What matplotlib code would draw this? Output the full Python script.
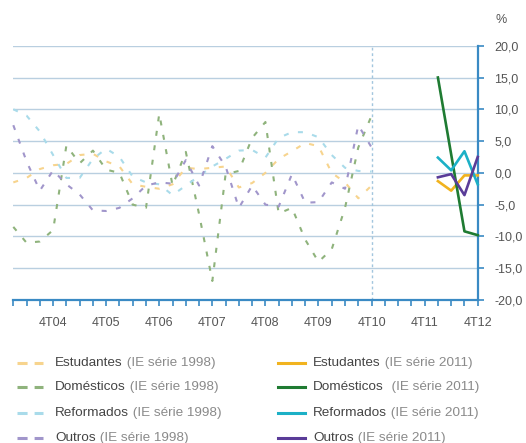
import matplotlib
matplotlib.use('Agg')
import matplotlib.pyplot as plt
from matplotlib.lines import Line2D

plt.rcParams['font.family'] = ['Liberation Sans', 'DejaVu Sans']

# trimestres 1T04 .. 4T12
trimestres = [f'{t}T{a:02d}' for a in range(4, 13) for t in range(1, 5)]
rotulos = ['4T04', '4T05', '4T06', '4T07', '4T08', '4T09', '4T10', '4T11', '4T12']

# IE série 1998 (1T04 a 4T10)
estudantes_98 = [-1.5, -0.8, 0.6, 1.2, 1.4, 2.8, 3.0, 1.8, 1.0, -1.8, -2.2, -2.5, -1.8, 0.8,
                 0.6, 0.8, 1.0, -2.3, -1.6, 0.0, 2.2, 3.4, 4.7, 4.2, 0.0, -1.5, -4.0, -2.0]
domesticos_98 = [-8.5, -11.0, -10.8, -9.0, 4.3, 1.5, 3.5, 0.5, 0.0, -5.0, -5.5, 9.3, -2.0, 3.3,
                 -6.5, -17.0, -0.2, 0.3, 5.5, 8.0, -6.4, -5.5, -10.5, -14.0, -12.0, -5.5, 4.0, 9.0]
reformados_98 = [10.0, 9.0, 6.5, 2.8, -0.8, -0.8, 2.2, 3.8, 2.5, -0.6, -1.5, -1.8, -3.5, -2.0,
                 -0.5, 1.0, 2.2, 3.5, 3.6, 2.4, 5.5, 6.4, 6.4, 5.6, 2.8, 0.8, 0.3, 0.2]
outros_98 = [7.5, 1.8, -2.8, 0.4, -1.8, -3.4, -5.9, -6.0, -5.5, -4.0, -2.0, -1.5, -1.7, 2.0,
             -2.0, 4.2, 1.0, -5.5, -2.0, -5.0, -5.3, -0.2, -4.7, -4.6, -1.5, -2.5, 7.5, 4.0]

# IE série 2011 (1T12 a 4T12)
estudantes_11 = [-1.3, -2.8, -0.4, -0.4]
domesticos_11 = [15.0, 2.9, -9.2, -9.8]
reformados_11 = [2.4, 0.4, 3.4, -1.8]
outros_11 = [-0.7, -0.2, -3.5, 2.5]

nomes = ['Estudantes', 'Domésticos', 'Reformados', 'Outros']
cores_98 = ['#f7d48e', '#8fb37c', '#a9dbea', '#a196cb']
cores_11 = ['#f1b31f', '#1f7b32', '#1cb0c6', '#5a3c98']
series_98 = [estudantes_98, domesticos_98, reformados_98, outros_98]
series_11 = [estudantes_11, domesticos_11, reformados_11, outros_11]

azul = '#3a8ac4'
cinza = '#555555'

fig = plt.figure(figsize=(5.26, 4.43), dpi=100)
ax = fig.add_axes([0.0253, 0.3228, 0.8829, 0.574])

x98 = list(range(trimestres.index('1T04'), trimestres.index('4T10') + 1))
x11 = list(range(trimestres.index('1T12'), trimestres.index('4T12') + 1))

for s, c in zip(series_98, cores_98):
    ax.plot(x98, s, color=c, lw=1.5, ls=(0, (2.4, 4.6)), clip_on=False, zorder=3)
for s, c in zip(series_11, cores_11):
    ax.plot(x11, s, color=c, lw=1.9, clip_on=False, zorder=4)

ax.axvline(trimestres.index('4T10'), color='#a3c6de', lw=1, ls=(0, (2, 2)), zorder=1)

ax.set_xlim(0, len(trimestres) - 1)
ax.set_ylim(-20, 20)
ax.set_yticks(range(-20, 25, 5))
ax.set_yticklabels([f'{v:.1f}'.replace('.', ',') for v in range(-20, 25, 5)])
ax.yaxis.tick_right()
ax.yaxis.grid(True, color='#b9cfe0', lw=1.0)
ax.set_axisbelow(True)

ax.set_xticks(range(len(trimestres)))
ax.set_xticklabels([t if t in rotulos else '' for t in trimestres])

for lado in ['left', 'top']:
    ax.spines[lado].set_visible(False)
for lado in ['right', 'bottom']:
    ax.spines[lado].set_color(azul)
    ax.spines[lado].set_linewidth(1.6)

ax.tick_params(axis='x', direction='out', length=4, width=1.2, color=azul,
               labelsize=9, labelcolor=cinza, pad=8)
ax.tick_params(axis='y', direction='out', length=4, width=1.2, color=azul,
               labelsize=9, labelcolor=cinza, pad=8)

fig.text(495 / 526, 1 - 20 / 443, '%', ha='left', va='center', fontsize=9, color=cinza)


def item_legenda(x_linha, x_texto, y, cor, estilo, nome, sufixo):
    fig.add_artist(Line2D(x_linha, [y, y], color=cor, lw=2.2, ls=estilo))
    t = fig.text(x_texto, y, nome, ha='left', va='center', fontsize=9.7, color='#444444')
    ax.annotate(sufixo, xy=(1, 0), xycoords=t, ha='left', va='bottom',
                fontsize=9.7, color='#8a8a8a', annotation_clip=False)


# legenda em duas colunas
linhas_y = [363, 387, 412.7, 438]
for i, nome in enumerate(nomes):
    y = 1 - linhas_y[i] / 443
    item_legenda([17 / 526, 43 / 526], 55 / 526, y, cores_98[i], (0, (3.3, 2.3)),
                 nome, ' (IE série 1998)')
    sep = '  ' if nome == 'Domésticos' else ' '
    item_legenda([278 / 526, 305 / 526], 313 / 526, y, cores_11[i], '-',
                 nome, sep + '(IE série 2011)')

fig.savefig('out.png', dpi=100)
